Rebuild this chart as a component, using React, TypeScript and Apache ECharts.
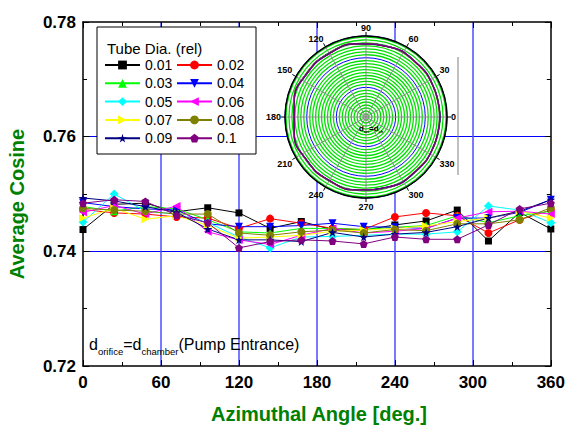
import React, { useEffect, useRef } from 'react';
import * as echarts from 'echarts';

const angles = [0, 24, 48, 72, 96, 120, 144, 168, 192, 216, 240, 264, 288, 312, 336, 360];
const seriesNames = ['0.01', '0.02', '0.03', '0.04', '0.05', '0.06', '0.07', '0.08', '0.09', '0.1'];
const d001 = [0.7438, 0.7482, 0.7484, 0.7469, 0.7476, 0.7467, 0.7440, 0.7452, 0.7438, 0.7437, 0.7446, 0.7453, 0.7472, 0.7418, 0.7468, 0.7439];
const d002 = [0.7473, 0.7467, 0.7465, 0.7460, 0.7458, 0.7440, 0.7457, 0.7449, 0.7440, 0.7438, 0.7460, 0.7467, 0.7462, 0.7432, 0.7455, 0.7472];
const d003 = [0.7478, 0.7470, 0.7478, 0.7474, 0.7455, 0.7434, 0.7432, 0.7440, 0.7440, 0.7438, 0.7442, 0.7445, 0.7462, 0.7450, 0.7462, 0.7470];
const d004 = [0.7485, 0.7478, 0.7474, 0.7472, 0.7448, 0.7443, 0.7443, 0.7445, 0.7449, 0.7443, 0.7442, 0.7440, 0.7458, 0.7458, 0.7468, 0.7490];
const d005 = [0.7451, 0.7500, 0.7470, 0.7465, 0.7450, 0.7425, 0.7406, 0.7425, 0.7426, 0.7428, 0.7430, 0.7430, 0.7434, 0.7479, 0.7472, 0.7450];
const d006 = [0.7468, 0.7480, 0.7465, 0.7479, 0.7434, 0.7420, 0.7412, 0.7428, 0.7440, 0.7432, 0.7435, 0.7440, 0.7458, 0.7469, 0.7470, 0.7465];
const d007 = [0.7458, 0.7475, 0.7456, 0.7462, 0.7445, 0.7423, 0.7425, 0.7428, 0.7435, 0.7437, 0.7440, 0.7444, 0.7452, 0.7458, 0.7470, 0.7458];
const d008 = [0.7475, 0.7472, 0.7470, 0.7465, 0.7465, 0.7432, 0.7428, 0.7434, 0.7437, 0.7432, 0.7438, 0.7436, 0.7448, 0.7448, 0.7455, 0.7476];
const d009 = [0.7493, 0.7488, 0.7478, 0.7468, 0.7439, 0.7420, 0.7420, 0.7417, 0.7433, 0.7425, 0.7430, 0.7433, 0.7443, 0.7458, 0.7470, 0.7490];
const d010 = [0.7484, 0.7490, 0.7487, 0.7463, 0.7450, 0.7406, 0.7417, 0.7420, 0.7418, 0.7413, 0.7425, 0.7421, 0.7421, 0.7446, 0.7474, 0.7484];
const seriesData = [d001, d002, d003, d004, d005, d006, d007, d008, d009, d010];
const colors = ['#000000', '#ff0000', '#00ff00', '#0000ff', '#00ffff', '#ff00ff', '#ffff00', '#808000', '#000080', '#800080'];
const STAR = 'path://M50,0 L61,35 L98,35 L68,57 L79,91 L50,70 L21,91 L32,57 L2,35 L39,35 Z';
const PENT = 'path://M50,0 L98,35 L79,91 L21,91 L2,35 Z';
const symbols = ['rect', 'circle', 'triangle', 'triangle', 'diamond', 'triangle', 'triangle', 'circle', STAR, PENT];
const rotations = [0, 0, 0, 180, 0, 90, -90, 0, 0, 0];
const sizes = [7, 8, 8, 8, 9, 8, 8, 8, 9, 8];

const FONT = 'Liberation Sans, Arial, sans-serif';

export default function App() {
  const ref = useRef<HTMLDivElement>(null);
  useEffect(() => {
    if (!ref.current) return;
    const chart = echarts.init(ref.current, undefined, { renderer: 'svg' });
    const cartSeries = seriesNames.map((name, i) => ({
      name,
      type: 'line',
      xAxisIndex: 0,
      yAxisIndex: 0,
      data: angles.map((a, j) => [a, seriesData[i][j]]),
      symbol: symbols[i],
      symbolRotate: rotations[i],
      symbolSize: sizes[i],
      lineStyle: { color: colors[i], width: 1 },
      itemStyle: { color: colors[i] },
      z: 2,
    }));
    const polarSeries = seriesNames.map((name, i) => ({
      name,
      type: 'line',
      coordinateSystem: 'polar',
      polarIndex: 0,
      data: angles.map((a, j) => [seriesData[i][j], a]),
      showSymbol: false,
      symbol: 'none',
      smooth: true,
      lineStyle: { color: colors[i], width: 1.2 },
      itemStyle: { color: colors[i] },
      z: 6,
    }));
    const legendCommon = {
      orient: 'vertical',
      top: 58,
      padding: 0,
      itemWidth: 35,
      itemHeight: 11,
      itemGap: 4.3,
      textStyle: { fontSize: 14, lineHeight: 14, color: '#000', fontFamily: FONT },
    };
    const tickStyle = { color: '#000', width: 1 };
    chart.setOption({
      animation: false,
      backgroundColor: '#fff',
      grid: { left: 83, right: 15, top: 22, bottom: 60 },
      legend: [
        { ...legendCommon, left: 104, data: [seriesNames[0], seriesNames[2], seriesNames[4], seriesNames[6], seriesNames[8]] },
        { ...legendCommon, left: 176, data: [seriesNames[1], seriesNames[3], seriesNames[5], seriesNames[7], seriesNames[9]] },
      ],
      xAxis: [
        {
          type: 'value', min: 0, max: 360, interval: 60, position: 'bottom',
          axisLine: { onZero: false, lineStyle: { color: '#000', width: 1.5 } },
          axisTick: { inside: true, length: 6, lineStyle: tickStyle },
          minorTick: { show: true, splitNumber: 2, length: 4, lineStyle: tickStyle },
          axisLabel: { fontSize: 17, fontWeight: 'bold', color: '#000', margin: 8, fontFamily: FONT },
          splitLine: { show: true, showMinLine: false, showMaxLine: false, lineStyle: { color: '#4d4dff', width: 1.5 } },
        },
        {
          type: 'value', min: 0, max: 360, interval: 60, position: 'top',
          axisLine: { onZero: false, lineStyle: { color: '#000', width: 1.5 } },
          axisTick: { inside: true, length: 6, lineStyle: tickStyle },
          minorTick: { show: true, splitNumber: 2, length: 4, lineStyle: tickStyle },
          axisLabel: { show: false },
          splitLine: { show: false },
        },
      ],
      yAxis: [
        {
          type: 'value', min: 0.72, max: 0.78, interval: 0.02, position: 'left',
          axisLine: { show: true, onZero: false, lineStyle: { color: '#000', width: 1.5 } },
          axisTick: { show: true, inside: true, length: 6, lineStyle: tickStyle },
          minorTick: { show: true, splitNumber: 2, length: 4, lineStyle: tickStyle },
          axisLabel: { fontSize: 17, fontWeight: 'bold', color: '#000', margin: 7, fontFamily: FONT, formatter: (v: number) => v.toFixed(2) },
          splitLine: { show: true, showMinLine: false, showMaxLine: false, lineStyle: { color: '#0000ff', width: 1 } },
        },
        {
          type: 'value', min: 0.72, max: 0.78, interval: 0.02, position: 'right',
          axisLine: { show: true, onZero: false, lineStyle: { color: '#000', width: 1.5 } },
          axisTick: { show: true, inside: true, length: 6, lineStyle: tickStyle },
          minorTick: { show: true, splitNumber: 2, length: 4, lineStyle: tickStyle },
          axisLabel: { show: false },
          splitLine: { show: false },
        },
      ],
      polar: { center: [366, 117], radius: 81 },
      angleAxis: {
        type: 'value', min: 0, max: 360, interval: 30, startAngle: 0, clockwise: false, z: 4,
        axisLine: { show: true, lineStyle: { color: '#000', width: 1.5 } },
        axisTick: { show: true, length: 4, lineStyle: { color: '#000' } },
        axisLabel: { fontSize: 9, fontWeight: 'bold', color: '#000', margin: 4, fontFamily: FONT, formatter: (v: number) => (v >= 360 ? '' : String(v)) },
        splitLine: { show: true, lineStyle: { color: '#8c8c8c', width: 1 } },
      },
      radiusAxis: {
        type: 'value', min: 0, max: 0.82, interval: 0.3, z: 3,
        axisLine: { show: false }, axisTick: { show: false }, axisLabel: { show: false },
        minorTick: { show: false, splitNumber: 10 },
        splitLine: { show: true, lineStyle: { color: '#0000ff', width: 1 } },
        minorSplitLine: { show: true, lineStyle: { color: '#00e000', width: 1.3 } },
      },
      graphic: [
        { type: 'circle', z: 1, shape: { cx: 366, cy: 117, r: 81 }, style: { fill: '#fff' } },
        { type: 'rect', z: 1, shape: { x: 97, y: 27, width: 159, height: 127 }, style: { fill: '#fff', stroke: '#000', lineWidth: 1 } },
        { type: 'text', z: 5, x: 107, y: 48, style: { text: 'Tube Dia. (rel)', fontSize: 15, fontFamily: FONT, fill: '#000', textVerticalAlign: 'middle' } },
        { type: 'line', z: 5, shape: { x1: 458, y1: 57, x2: 458, y2: 175 }, style: { stroke: '#808080', lineWidth: 1 } },
        {
          type: 'text', z: 7, x: 359, y: 128,
          style: {
            text: 'd{s|ori}=d{s|ch}', fontSize: 8, fontWeight: 'bold', fontFamily: FONT, fill: '#000', textVerticalAlign: 'middle',
            rich: { s: { fontSize: 4, fontWeight: 'bold', fontFamily: FONT, lineHeight: 5, padding: [6, 0, 0, 0] } },
          },
        },
        {
          type: 'text', z: 5, x: 89, y: 335,
          style: {
            text: 'd{s|orifice}=d{s|chamber}(Pump Entrance)', fontSize: 16, fontFamily: FONT, fill: '#000', lineHeight: 18,
            textVerticalAlign: 'top',
            rich: { s: { fontSize: 9.5, fontFamily: FONT, lineHeight: 10, padding: [14, 0, 0, 0] } },
          },
        },
        { type: 'text', z: 5, x: 319, y: 414, style: { text: 'Azimuthal Angle [deg.]', fontSize: 20, fontWeight: 'bold', fontFamily: FONT, fill: '#008000', textAlign: 'center', textVerticalAlign: 'middle' } },
        { type: 'text', z: 5, x: 17, y: 204, rotation: Math.PI / 2, style: { text: 'Average Cosine', fontSize: 20, fontWeight: 'bold', fontFamily: FONT, fill: '#008000', textAlign: 'center', textVerticalAlign: 'middle' } },
      ],
      series: [...cartSeries, ...polarSeries],
    });
    return () => chart.dispose();
  }, []);
  return <div ref={ref} style={{ position: 'fixed', left: 0, top: 0, width: 568, height: 426 }} />;
}
